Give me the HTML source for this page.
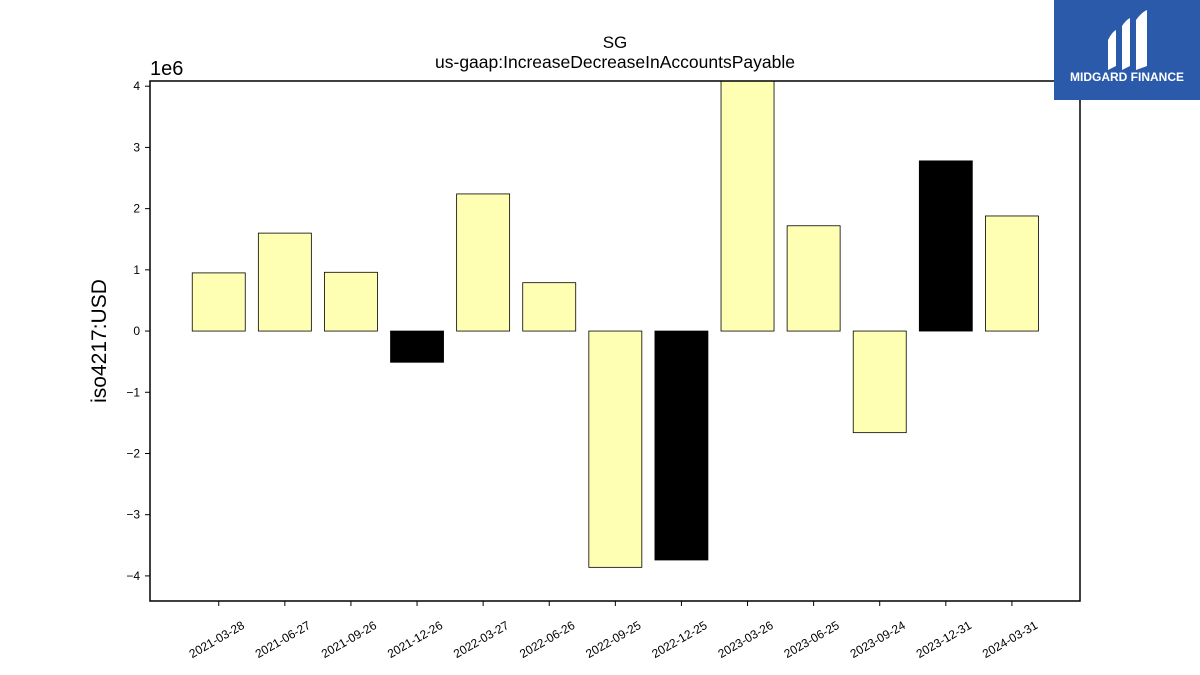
<!DOCTYPE html>
<html><head><meta charset="utf-8"><style>
body{margin:0;background:#fff;}
svg{display:block;font-family:"Liberation Sans","DejaVu Sans",sans-serif;}
</style></head><body>
<svg id="chart" width="1200" height="675">
<text x="615" y="48" font-size="17" text-anchor="middle">SG</text>
<text x="615" y="68" font-size="17.5" text-anchor="middle">us-gaap:IncreaseDecreaseInAccountsPayable</text>
<text x="150" y="75" font-size="20">1e6</text>
<text transform="translate(106,341) rotate(-90)" font-size="21" text-anchor="middle">iso4217:USD</text>
<g id="bars"></g>
<g id="yticks"></g>
<g id="xticks"></g>
<rect x="150" y="81" width="930" height="520" fill="none" stroke="#000" stroke-width="1.5"/>
<g>
<rect x="1054" y="0" width="146" height="100" fill="#2b5aab"/>
<path d="M1108 40 Q1112 32 1116 30 L1116 66 L1108 70 Z" fill="#fff"/>
<path d="M1122 26 Q1126 20 1130 18 L1130 66 L1122 70 Z" fill="#fff"/>
<path d="M1136 20 Q1142 12 1147 10 L1147 66 L1136 70 Z" fill="#fff"/>
<text x="1127" y="81" font-size="12" font-weight="bold" fill="#fff" text-anchor="middle">MIDGARD FINANCE</text>
</g>
</svg>
<script>
const categories=["2021-03-28","2021-06-27","2021-09-26","2021-12-26","2022-03-27","2022-06-26","2022-09-25","2022-12-25","2023-03-26","2023-06-25","2023-09-24","2023-12-31","2024-03-31"];
const values=[0.95,1.60,0.96,-0.51,2.24,0.79,-3.86,-3.74,4.4,1.72,-1.66,2.78,1.88];
const highlighted=[false,false,false,true,false,false,false,true,false,false,false,true,false];
const yTicks=[-4,-3,-2,-1,0,1,2,3,4];
const yTickLabels=["\u22124","\u22123","\u22122","\u22121","0","1","2","3","4"];
(function(){
const NS="http://www.w3.org/2000/svg";
const yMin=-4.41,yMax=4.085,plotTop=81,plotBottom=601,plotLeft=150,plotRight=1080;
function yScale(v){return plotBottom-(v-yMin)/(yMax-yMin)*(plotBottom-plotTop);}
function xScale(i){const step=(plotRight-plotLeft)/(categories.length+1.07);return plotLeft+step*(i+1.04);}
const bw=53;
const bars=document.getElementById('bars');
values.forEach((v,i)=>{
  const r=document.createElementNS(NS,'rect');
  const v0=Math.max(Math.min(v,yMax),yMin);
  const y1=Math.min(yScale(0),yScale(v0)),y2=Math.max(yScale(0),yScale(v0));
  r.setAttribute('x',xScale(i)-bw/2);r.setAttribute('y',y1);
  r.setAttribute('width',bw);r.setAttribute('height',y2-y1);
  r.setAttribute('fill',highlighted[i]?'#000':'#ffffb3');
  r.setAttribute('stroke','#000');r.setAttribute('stroke-width','0.8');
  
  
  bars.appendChild(r);
});
const yt=document.getElementById('yticks');
yTicks.forEach((t,i)=>{
  const l=document.createElementNS(NS,'line');
  l.setAttribute('x1',plotLeft-5);l.setAttribute('x2',plotLeft);l.setAttribute('y1',yScale(t));l.setAttribute('y2',yScale(t));
  l.setAttribute('stroke','#000');
  
  
  yt.appendChild(l);
  const tx=document.createElementNS(NS,'text');
  tx.setAttribute('x',plotLeft-10);tx.setAttribute('y',yScale(t)+4);tx.setAttribute('font-size','12');tx.setAttribute('text-anchor','end');
  tx.textContent=yTickLabels[i];
  
  
  yt.appendChild(tx);
});
const xt=document.getElementById('xticks');
categories.forEach((c,i)=>{
  const l=document.createElementNS(NS,'line');
  l.setAttribute('x1',xScale(i));l.setAttribute('x2',xScale(i));l.setAttribute('y1',plotBottom);l.setAttribute('y2',plotBottom+5);
  l.setAttribute('stroke','#000');
  
  
  xt.appendChild(l);
  const tx=document.createElementNS(NS,'text');
  tx.setAttribute('transform','translate('+xScale(i)+',643) rotate(-30)');
  tx.setAttribute('font-size','12');tx.setAttribute('text-anchor','middle');
  tx.textContent=c;
  
  
  xt.appendChild(tx);
});
})();
</script>
</body></html>
